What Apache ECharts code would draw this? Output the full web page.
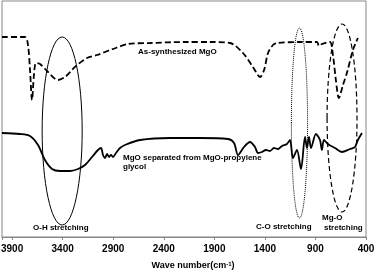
<!DOCTYPE html>
<html>
<head>
<meta charset="utf-8">
<script src="https://cdn.jsdelivr.net/npm/echarts@6/dist/echarts.min.js"></script>
<style>
html,body{margin:0;padding:0;background:#fff;}
#c{width:375px;height:272px;}
</style>
</head>
<body>
<div id="c"></div>
<script>
// As-synthesized MgO (dashed)
const synthWavenumber = [4000,3773,3743,3723,3703,3684,3664,3624,3545,3446,3377,3308,3258,3159,3060,2902,2754,2536,2190,1943,1745,1617,1518,1448,1408,1369,1320,1280,1053,885,866,836,757,727,698,668,628,589,529,480];
const synthValue      = [200,200,192,167,137,162,174,173,165,157,160,167,172,179,182,188,193,194,195,195,194,184,170,160,167,184,192,194,195,195,191,193,195,182,157,139,152,164,187,199];

// MgO separated from MgO-propylene glycol (solid)
const pgWavenumber = [4000,3822,3723,3644,3575,3505,3426,3327,3248,3179,3110,3051,3021,3001,2981,2961,2941,2922,2902,2873,2833,2784,2635,2338,2042,1765,1705,1666,1607,1547,1498,1468,1429,1389,1350,1310,1271,1231,1182,1152,1122,1083,1043,1003,984,964,944,895,855,836,816,777,707,638,559,509,480,440];
const pgValue      = [104,103,101,92,77,68,66,66,68,72,80,87,89,82,79,83,80,82,80,84,89,92,97,99,99,98,94,82,90,95,90,84,85,87,86,89,88,91,93,97,79,87,68,100,89,100,89,103,97,87,97,93,89,85,88,90,97,104];

// highlighted bands (ellipses): centre wavenumber, centre value, half-width (cm-1), half-height
const bandNames   = ['O-H stretching','C-O stretching','Mg-O stretching'];
const bandCenterX = [3405,1058,637];
const bandCenterY = [106,114,119];
const bandHalfX   = [198,80,148];
const bandHalfY   = [94,95,94];

const tickValues = [3900,3400,2900,2400,1900,1400,900,400];

const FONT = '"Liberation Sans", Arial, sans-serif';
const chart = echarts.init(document.getElementById('c'), null, {renderer:'canvas'});

function toPairs(xs, ys){ return xs.map((x,i)=>[x, ys[i]]); }

function ellipseSeries(i, dash, width){
  return {
    type:'custom', name: bandNames[i], z: 5, silent: true,
    data: [[bandCenterX[i], bandCenterY[i], bandHalfX[i], bandHalfY[i]]],
    renderItem: function(params, api){
      const c = api.coord([api.value(0), api.value(1)]);
      const s = api.size([api.value(2), api.value(3)]);
      return {
        type:'ellipse',
        shape:{cx:c[0], cy:c[1], rx:Math.abs(s[0]), ry:Math.abs(s[1])},
        style:{fill:null, stroke:'#000', lineWidth:width, lineDash:dash}
      };
    }
  };
}

const labelStyle = {fill:'#000', font:'bold 8px ' + FONT, textVerticalAlign:'middle'};

chart.setOption({
  animation:false,
  grid:{left:2, right:9, top:1, bottom:35, containLabel:false, outerBoundsMode:'none',
        show:true, borderColor:'#868686', borderWidth:1, backgroundColor:'transparent'},
  xAxis:{
    type:'value', inverse:true, min:400, max:4000, interval:500,
    splitLine:{show:false},
    axisLine:{show:true, lineStyle:{color:'#868686', width:1}},
    axisTick:{show:true, length:3, lineStyle:{color:'#868686'}},
    axisLabel:{
      color:'#000', fontFamily:FONT, fontWeight:'bold', fontSize:10, margin:7,
      formatter:function(v){ return tickValues.indexOf(v) >= 0 ? String(v) : ''; }
    },
    name:'Wave number(cm{sup|-1})', nameLocation:'middle', nameGap:24,
    nameTextStyle:{color:'#000', fontFamily:FONT, fontWeight:'bold', fontSize:9, padding:[0,0,0,18],
      rich:{sup:{fontSize:6, fontFamily:FONT, fontWeight:'bold', color:'#000', verticalAlign:'top', padding:[0,0,4,0]}}}
  },
  yAxis:{type:'value', min:0, max:236, show:false},
  series:[
    {type:'line', name:'As-synthesized MgO', data:toPairs(synthWavenumber, synthValue), showSymbol:false, smooth:0.3,
     lineStyle:{color:'#000', width:1.8, type:[6,3]}},
    {type:'line', name:'MgO separated from MgO-propylene glycol', data:toPairs(pgWavenumber, pgValue), showSymbol:false, smooth:0.3,
     lineStyle:{color:'#000', width:1.8}},
    ellipseSeries(0, null, 1),
    ellipseSeries(1, [1,1], 1),
    ellipseSeries(2, [5,3], 1.2)
  ],
  graphic:[
    {type:'text', left:138, top:48, style:Object.assign({text:'As-synthesized MgO'}, labelStyle)},
    {type:'text', left:123, top:154, style:Object.assign({text:'MgO separated from MgO-propylene'}, labelStyle)},
    {type:'text', left:123, top:163, style:Object.assign({text:'glycol'}, labelStyle)},
    {type:'text', left:33, top:224, style:Object.assign({text:'O-H stretching'}, labelStyle)},
    {type:'text', left:256, top:223, style:Object.assign({text:'C-O stretching'}, labelStyle)},
    {type:'text', left:322, top:214, style:Object.assign({text:'Mg-O'}, labelStyle)},
    {type:'text', left:324, top:224, style:Object.assign({text:'stretching'}, labelStyle)}
  ]
});
</script>
</body>
</html>
